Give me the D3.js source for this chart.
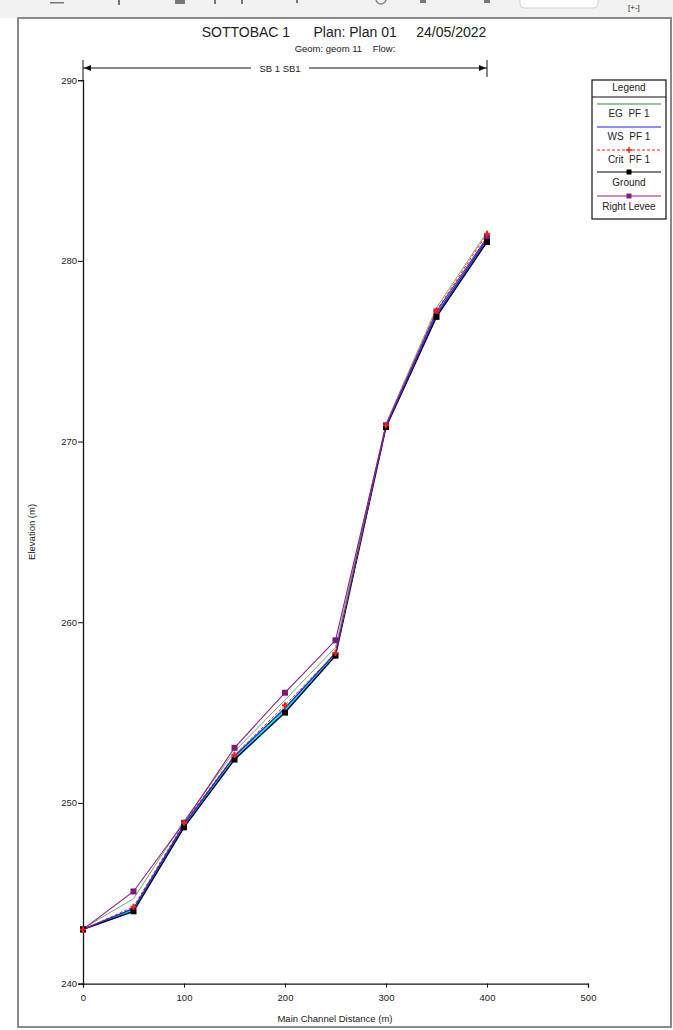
<!DOCTYPE html>
<html>
<head>
<meta charset="utf-8">
<script src="https://cdn.jsdelivr.net/npm/d3@7"></script>
<style>
  html, body { margin: 0; padding: 0; background: #ffffff; }
  svg { display: block; }
  text { font-family: "Liberation Sans", Arial, sans-serif; fill: #222; }
</style>
</head>
<body>
<svg id="chart" width="673" height="1030"></svg>
<script>
// Main channel stations (m)
const stations = [0, 50, 100, 150, 200, 250, 300, 350, 400];
// Elevations (m) per profile
const egPF1 = [243.05, 244.7, 249.0, 252.85, 255.7, 258.6, 271.0, 277.4, 281.6];
const wsPF1 = [243.0, 244.15, 248.8, 252.6, 255.25, 258.3, 270.85, 277.05, 281.2];
const critPF1 = [243.0, 244.25, 248.9, 252.65, 255.4, 258.3, 270.9, 277.25, 281.5];
const ground = [243.0, 244.0, 248.65, 252.4, 255.0, 258.15, 270.8, 276.9, 281.05];
const rightLevee = [243.0, 245.1, 248.9, 253.05, 256.1, 259.0, 270.9, 277.2, 281.3];

const xTicks = [0, 100, 200, 300, 400, 500];
const yTicks = [240, 250, 260, 270, 280, 290];
const reachName = "SB 1 SB1";
const legendItems = ["EG  PF 1", "WS  PF 1", "Crit  PF 1", "Ground", "Right Levee"];

const svg = d3.select("#chart");

// window strip and frame
svg.append("rect").attr("x", 0).attr("y", 0).attr("width", 673).attr("height", 18).attr("fill", "#f2f2f2");
svg.append("rect").attr("x", 520).attr("y", -6).attr("width", 78).attr("height", 14).attr("rx", 4)
  .attr("fill", "#fff").attr("stroke", "#cfcfcf");
const frags = [[50, 2, 14, 1.5], [118, 0, 2, 5], [175, 0, 10, 4], [214, 0, 2, 4], [241, 0, 2, 4], [296, 0, 2, 3], [420, 0, 6, 3], [484, 0, 6, 3]];
svg.selectAll("rect.frag").data(frags).join("rect").attr("class", "frag")
  .attr("x", d => d[0]).attr("y", d => d[1]).attr("width", d => d[2]).attr("height", d => d[3]).attr("fill", "#777");
svg.append("circle").attr("cx", 381).attr("cy", -1).attr("r", 5).attr("fill", "none").attr("stroke", "#888").attr("stroke-width", 1.5);
svg.append("text").attr("x", 628).attr("y", 10).attr("font-size", 8).attr("fill", "#555").text("[+-]");
svg.append("rect").attr("x", 18).attr("y", 18).attr("width", 653).attr("height", 1009)
  .attr("fill", "#fff").attr("stroke", "#8a8a8a").attr("stroke-width", 2);

// scales
const x = d3.scaleLinear().domain([0, 500]).range([83, 588]);
const y = d3.scaleLinear().domain([240, 290]).range([983.6, 80.2]);

// titles
svg.append("text").attr("x", 344).attr("y", 37).attr("text-anchor", "middle").attr("font-size", 14)
  .attr("xml:space", "preserve").text("SOTTOBAC 1      Plan: Plan 01     24/05/2022");
svg.append("text").attr("x", 345).attr("y", 52).attr("text-anchor", "middle").attr("font-size", 9.5)
  .attr("xml:space", "preserve").text("Geom: geom 11    Flow:");

// reach bracket
const bY = 68;
const bx0 = x(stations[0]), bx1 = x(stations[stations.length - 1]);
const g = svg.append("g");
g.append("line").attr("x1", bx0).attr("x2", bx0).attr("y1", 60).attr("y2", 80).attr("stroke", "#111");
g.append("line").attr("x1", bx1).attr("x2", bx1).attr("y1", 60).attr("y2", 77).attr("stroke", "#111");
const lblW = 58, cx = 280;
g.append("line").attr("x1", bx0).attr("x2", cx - lblW / 2).attr("y1", bY).attr("y2", bY).attr("stroke", "#111");
g.append("line").attr("x1", cx + lblW / 2).attr("x2", bx1).attr("y1", bY).attr("y2", bY).attr("stroke", "#111");
g.append("path").attr("d", `M${bx0 + 1},${bY} l7,-3 v6 z`).attr("fill", "#111");
g.append("path").attr("d", `M${bx1 - 1},${bY} l-7,-3 v6 z`).attr("fill", "#111");
g.append("text").attr("x", cx).attr("y", bY + 3.5).attr("text-anchor", "middle").attr("font-size", 9.5).text(reachName);

// axes
const yAxis = d3.axisLeft(y).tickValues(yTicks).tickSize(5).tickFormat(d3.format("d"));
const yMinor = d3.axisLeft(y).tickValues(d3.range(240, 291, 2)).tickSize(3).tickFormat("");
const xAxis = d3.axisBottom(x).tickValues(xTicks).tickSize(4).tickFormat(d3.format("d"));
const xMinor = d3.axisBottom(x).tickValues(d3.range(0, 501, 20)).tickSize(4).tickFormat("");

const gy = svg.append("g").attr("transform", "translate(83,0)");
gy.call(yMinor); gy.call(yAxis);
const gx = svg.append("g").attr("transform", `translate(0,${y(240)})`);
gx.call(xMinor); gx.call(xAxis);
svg.selectAll(".domain").attr("stroke", "#111").attr("stroke-width", 1.3);
svg.selectAll(".tick line").attr("stroke", "#111");
gy.selectAll("text").attr("font-size", 9.5).attr("font-family", "Liberation Sans, Arial, sans-serif").attr("fill", "#333").attr("x", -6);
gx.selectAll("text").attr("font-size", 9.5).attr("font-family", "Liberation Sans, Arial, sans-serif").attr("fill", "#333").attr("dy", "1.1em");

svg.append("text").attr("x", 335).attr("y", 1022).attr("text-anchor", "middle").attr("font-size", 9.5).text("Main Channel Distance (m)");
svg.append("text").attr("transform", `translate(35,${(y(240) + y(290)) / 2}) rotate(-90)`)
  .attr("text-anchor", "middle").attr("font-size", 9.5).text("Elevation (m)");

// data
const rows = stations.map((s, i) => ({ s, eg: egPF1[i], ws: wsPF1[i], crit: critPF1[i], gr: ground[i], lv: rightLevee[i] }));
const line = key => d3.line().x(d => x(d.s)).y(d => y(d[key]));

// water between ground and water surface
svg.append("path").datum(rows)
  .attr("d", d3.area().x(d => x(d.s)).y0(d => y(d.gr) + 0.5).y1(d => y(d.ws) - 0.8))
  .attr("fill", "#00e0ee");

svg.append("path").datum(rows).attr("d", line("gr")).attr("fill", "none").attr("stroke", "#000").attr("stroke-width", 1.4);
svg.append("path").datum(rows).attr("d", line("ws")).attr("fill", "none").attr("stroke", "#1c1cff").attr("stroke-width", 1.2);
svg.append("path").datum(rows).attr("d", line("crit")).attr("fill", "none").attr("stroke", "#ff1a1a").attr("stroke-width", 1).attr("stroke-dasharray", "3,2");
svg.append("path").datum(rows).attr("d", line("eg")).attr("fill", "none").attr("stroke", "#2e8b2e").attr("stroke-width", 0.9).attr("opacity", 0.8);
svg.append("path").datum(rows).attr("d", line("lv")).attr("fill", "none").attr("stroke", "#8b1a8b").attr("stroke-width", 1.1);

// markers: levee, then ground, then critical depth on top
svg.selectAll("rect.lm").data(rows).join("rect").attr("class", "lm")
  .attr("x", d => x(d.s) - 3).attr("y", d => y(d.lv) - 3).attr("width", 6).attr("height", 6).attr("fill", "#7a1a7a");
svg.selectAll("rect.gm").data(rows).join("rect").attr("class", "gm")
  .attr("x", d => x(d.s) - 3).attr("y", d => y(d.gr) - 3).attr("width", 6).attr("height", 6).attr("fill", "#000");
svg.selectAll("path.cm").data(rows).join("path").attr("class", "cm")
  .attr("d", d => `M${x(d.s) - 3},${y(d.crit)} h6 M${x(d.s)},${y(d.crit) - 3} v6`)
  .attr("stroke", "#ff1a1a").attr("stroke-width", 2);

// legend
const L = svg.append("g");
const lx0 = 592, lx1 = 666, ly0 = 80, ly1 = 219;
L.append("rect").attr("x", lx0).attr("y", ly0).attr("width", lx1 - lx0).attr("height", ly1 - ly0)
  .attr("fill", "#fff").attr("stroke", "#111").attr("stroke-width", 1.2);
L.append("text").attr("x", (lx0 + lx1) / 2).attr("y", 91).attr("text-anchor", "middle").attr("font-size", 10).text("Legend");
L.append("line").attr("x1", lx0).attr("x2", lx1).attr("y1", 97).attr("y2", 97).attr("stroke", "#111");
const legStyles = [
  { c: "#2e8b2e", dash: null, m: null },
  { c: "#1c1cff", dash: null, m: null },
  { c: "#ff1a1a", dash: "3,2", m: "plus" },
  { c: "#000", dash: null, m: "sq" },
  { c: "#8b1a8b", dash: null, m: "sq" }
];
const lineYs = [104, 127, 150, 172, 196];
const textYs = [117, 140, 163, 186, 210];
legendItems.forEach((name, i) => {
  const st = legStyles[i];
  const ln = L.append("line").attr("x1", 597).attr("x2", 661).attr("y1", lineYs[i]).attr("y2", lineYs[i])
    .attr("stroke", st.c).attr("stroke-width", 1.2);
  if (st.dash) ln.attr("stroke-dasharray", st.dash);
  const mx = 629;
  if (st.m === "sq") L.append("rect").attr("x", mx - 2.5).attr("y", lineYs[i] - 2.5).attr("width", 5).attr("height", 5).attr("fill", st.c);
  if (st.m === "plus") L.append("path").attr("d", `M${mx - 3},${lineYs[i]} h6 M${mx},${lineYs[i] - 3} v6`).attr("stroke", st.c).attr("stroke-width", 1.5);
  L.append("text").attr("x", (lx0 + lx1) / 2).attr("y", textYs[i]).attr("text-anchor", "middle")
    .attr("font-size", 10).attr("xml:space", "preserve").text(name);
});
</script>
</body>
</html>
